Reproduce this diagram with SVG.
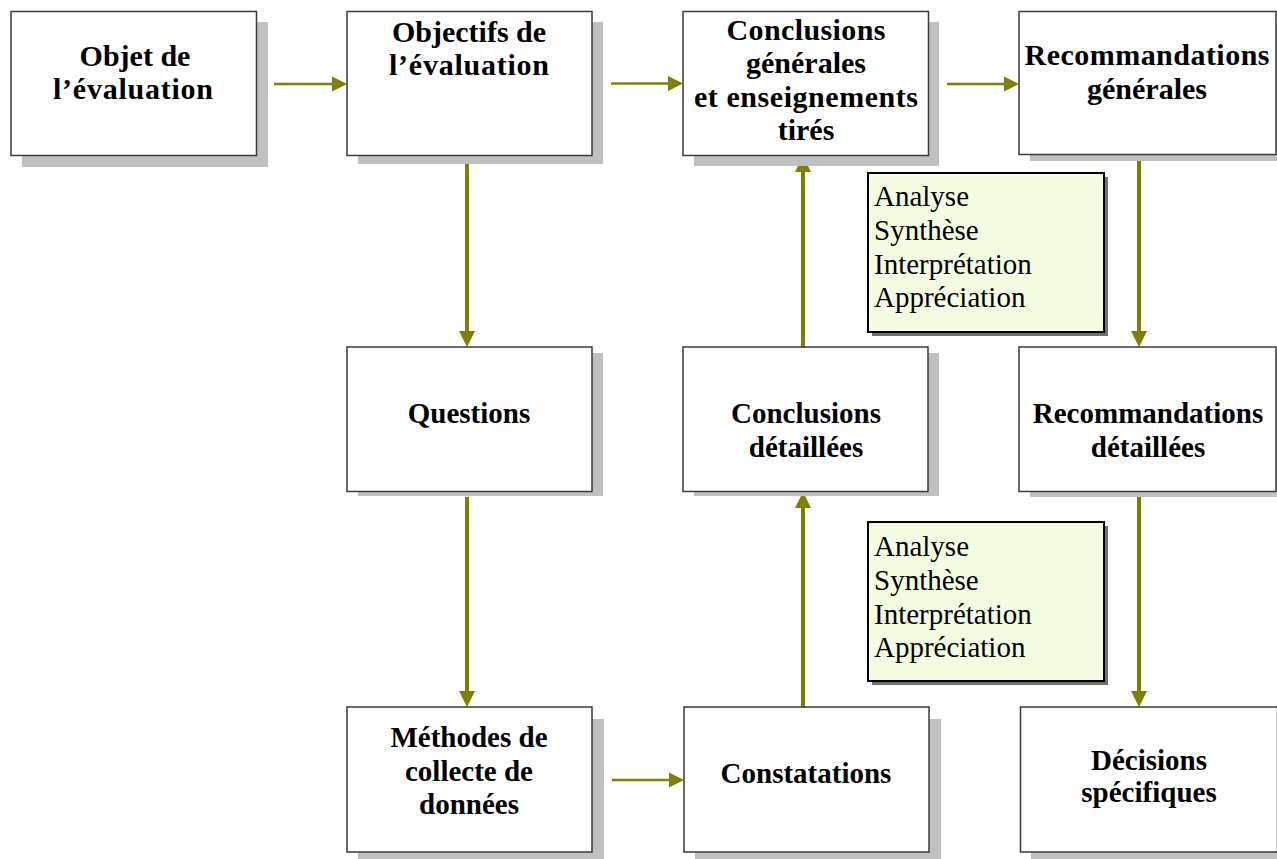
<svg xmlns="http://www.w3.org/2000/svg" width="1277" height="859" viewBox="0 0 1277 859">
<defs>
<style>
.sh{fill:#c0c0c0;stroke:none}
.bx{fill:#ffffff;stroke:#3a3a3a;stroke-width:1.5}
.t1{font-family:"Liberation Serif","Times New Roman",serif;font-weight:bold;font-size:30px;fill:#000;text-anchor:middle}
.t2{font-family:"Liberation Serif","Times New Roman",serif;font-weight:bold;font-size:29px;fill:#000;text-anchor:middle}
.nt{font-family:"Liberation Serif","Times New Roman",serif;font-size:29px;fill:#000}
.nsh{fill:#707070;stroke:none}
.nbx{fill:#f4fde2;stroke:#000;stroke-width:2}
.ch{stroke:#808000;stroke-width:2.5;fill:none}
.cv{stroke:#808000;stroke-width:4;fill:none}
.ah{fill:#808000;stroke:none}
</style>
</defs>
<rect width="1277" height="859" fill="#ffffff"/>

<g id="connectors">
<line class="ch" x1="274" y1="84" x2="333" y2="84"/>
<polygon class="ah" points="347,84 332,76.5 332,91.5"/>
<line class="ch" x1="611" y1="83.5" x2="670" y2="83.5"/>
<polygon class="ah" points="683,83.5 668,76 668,91"/>
<line class="ch" x1="947" y1="84" x2="1006" y2="84"/>
<polygon class="ah" points="1019,84 1004,76.5 1004,91.5"/>
<line class="ch" x1="612" y1="780" x2="671" y2="780"/>
<polygon class="ah" points="684,780 669,772.5 669,787.5"/>
<line class="cv" x1="467" y1="164" x2="467" y2="333"/>
<polygon class="ah" points="467,347 459,331 475,331"/>
<line class="cv" x1="467" y1="497" x2="467" y2="693"/>
<polygon class="ah" points="467,707 459,691 475,691"/>
<line class="cv" x1="803" y1="707" x2="803" y2="506"/>
<polygon class="ah" points="803,492 795,508 811,508"/>
<line class="cv" x1="803" y1="347" x2="803" y2="170"/>
<polygon class="ah" points="803,156 795,172 811,172"/>
<line class="cv" x1="1139" y1="155" x2="1139" y2="333"/>
<polygon class="ah" points="1139,347 1131,331 1147,331"/>
<line class="cv" x1="1139" y1="492" x2="1139" y2="693"/>
<polygon class="ah" points="1139,707 1131,691 1147,691"/>
</g>

<g id="objet">
<rect class="sh" x="22" y="22" width="246" height="145"/>
<rect class="bx" x="11" y="11.5" width="245.5" height="144"/>
<text class="t1" x="135" y="65.5">Objet de</text>
<text class="t1" x="133" y="99" textLength="160">l’évaluation</text>
</g>

<g id="objectifs">
<rect class="sh" x="358" y="22" width="245" height="142"/>
<rect class="bx" x="347" y="11.5" width="245" height="144"/>
<text class="t1" x="469" y="41.5">Objectifs de</text>
<text class="t1" x="469" y="75" textLength="160">l’évaluation</text>
</g>

<g id="conclusions-generales">
<rect class="sh" x="694" y="22" width="245" height="144"/>
<rect class="bx" x="683" y="11.5" width="245.5" height="144"/>
<text class="t1" x="806" y="40" textLength="159">Conclusions</text>
<text class="t1" x="806" y="73">générales</text>
<text class="t1" x="806" y="106.5" textLength="224">et enseignements</text>
<text class="t1" x="806" y="140">tirés</text>
</g>

<g id="recommandations-generales">
<rect class="sh" x="1030" y="22" width="260" height="139"/>
<rect class="bx" x="1019" y="11.5" width="257" height="143"/>
<text class="t1" x="1147" y="65" textLength="245">Recommandations</text>
<text class="t1" x="1147" y="98.5">générales</text>
</g>

<g id="analyse-1">
<rect class="nsh" x="872" y="177" width="236" height="159"/>
<rect class="nbx" x="868" y="173" width="236" height="159"/>
<text class="nt" x="874" y="206">Analyse</text>
<text class="nt" x="874" y="240">Synthèse</text>
<text class="nt" x="874" y="274">Interprétation</text>
<text class="nt" x="874" y="307">Appréciation</text>
</g>

<g id="questions">
<rect class="sh" x="358" y="353" width="245" height="143"/>
<rect class="bx" x="347" y="347" width="245" height="144.5"/>
<text class="t2" x="469" y="423">Questions</text>
</g>

<g id="conclusions-detaillees">
<rect class="sh" x="694" y="353" width="245" height="143"/>
<rect class="bx" x="683" y="347" width="245" height="144.5"/>
<text class="t2" x="806" y="423">Conclusions</text>
<text class="t2" x="806" y="457">détaillées</text>
</g>

<g id="recommandations-detaillees">
<rect class="sh" x="1030" y="353" width="260" height="144"/>
<rect class="bx" x="1019" y="347" width="257" height="144.5"/>
<text class="t2" x="1148" y="423">Recommandations</text>
<text class="t2" x="1148" y="457">détaillées</text>
</g>

<g id="analyse-2">
<rect class="nsh" x="872" y="526" width="236" height="159"/>
<rect class="nbx" x="868" y="522" width="236" height="159"/>
<text class="nt" x="874" y="556">Analyse</text>
<text class="nt" x="874" y="590">Synthèse</text>
<text class="nt" x="874" y="624">Interprétation</text>
<text class="nt" x="874" y="657">Appréciation</text>
</g>

<g id="methodes">
<rect class="sh" x="358" y="719" width="246" height="145"/>
<rect class="bx" x="347" y="707" width="245" height="145"/>
<text class="t2" x="469" y="747">Méthodes de</text>
<text class="t2" x="469" y="781">collecte de</text>
<text class="t2" x="469" y="814">données</text>
</g>

<g id="constatations">
<rect class="sh" x="695" y="719" width="246" height="145"/>
<rect class="bx" x="684" y="707" width="245" height="145"/>
<text class="t2" x="806" y="783">Constatations</text>
</g>

<g id="decisions">
<rect class="sh" x="1031" y="719" width="260" height="145"/>
<rect class="bx" x="1020.5" y="707" width="257" height="145"/>
<text class="t2" x="1149" y="770">Décisions</text>
<text class="t2" x="1149" y="802">spécifiques</text>
</g>
</svg>
